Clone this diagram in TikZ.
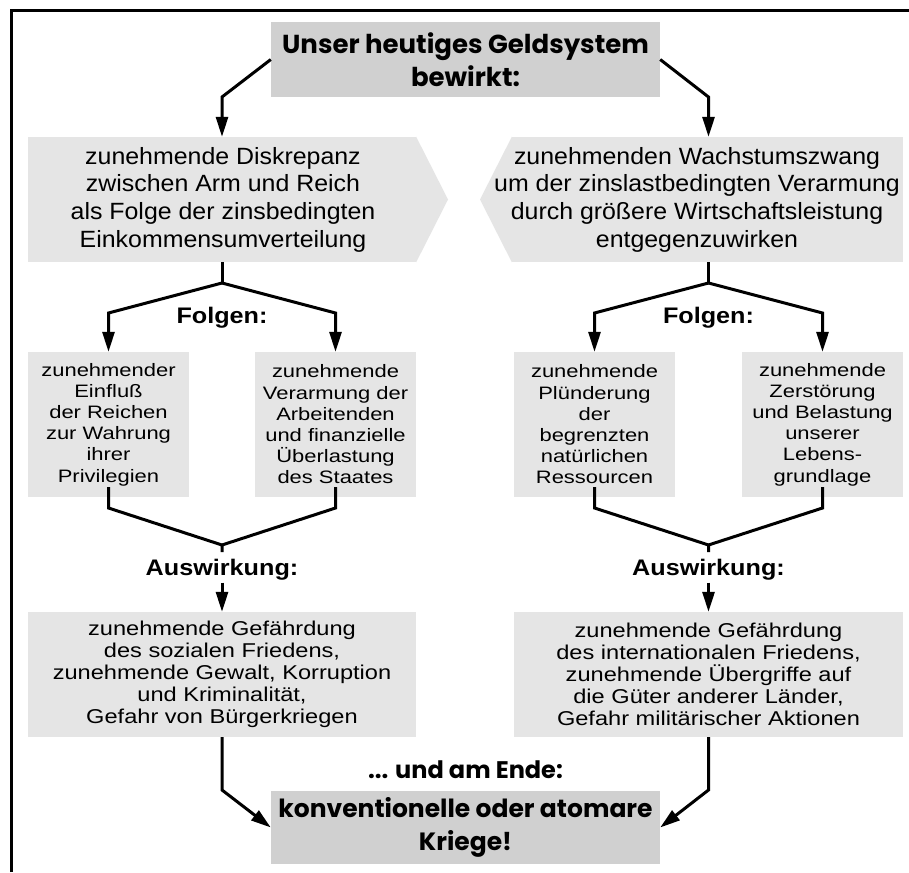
\documentclass[tikz,border=0pt]{standalone}
\usepackage{fontspec}
\setmainfont{Liberation Sans}
\newfontfamily\titlefont{Poppins}
\newfontfamily\pentfont[FakeStretch=1.06]{Liberation Sans}
\newfontfamily\smallfont[FakeStretch=1.22]{Liberation Sans}
\newfontfamily\botfont[FakeStretch=1.18]{Liberation Sans}
\newfontfamily\lblfont[FakeStretch=1.12]{Liberation Sans}
\usetikzlibrary{arrows.meta}
\definecolor{darkbox}{RGB}{208,208,208}
\definecolor{lightbox}{RGB}{229,229,229}
\tikzset{
  conn/.style={line width=3pt, draw=black, miter limit=4},
  arr/.style={conn, -{Triangle[length=20pt,width=12pt]}},
  titlebox/.style={fill=darkbox, inner sep=0pt, align=center,
    font=\titlefont\bfseries\fontsize{26}{33}\selectfont},
  finbox/.style={fill=darkbox, inner sep=0pt, align=center,
    font=\titlefont\bfseries\fontsize{25}{33}\selectfont},
  bodybox/.style={fill=lightbox, inner sep=0pt},
  penttext/.style={inner sep=0pt, align=center,
    font=\pentfont\fontsize{23.5}{27.7}\selectfont},
  smallbox/.style={fill=lightbox, inner sep=0pt, align=center,
    minimum width=161pt, minimum height=145pt,
    font=\smallfont\fontsize{18}{21.2}\selectfont},
  botbox/.style={fill=lightbox, inner sep=0pt, align=center,
    minimum height=125pt,
    font=\botfont\fontsize{20}{22}\selectfont},
  lbl/.style={inner sep=0pt, font=\lblfont\bfseries\fontsize{22.5}{26}\selectfont},
  endlbl/.style={inner sep=0pt, font=\titlefont\bfseries\fontsize{24}{30}\selectfont}
}
\begin{document}
\begin{tikzpicture}[x=1pt,y=-1pt]
\useasboundingbox (0,0) rectangle (909,872);
\fill[white] (0,0) rectangle (909,872);
% frame
\draw[line width=3pt] (11.5,872) -- (11.5,10.5) -- (909,10.5);

% title
\node[titlebox, minimum width=389pt, minimum height=75pt] (title) at (465.5,59.5)
  {Unser heutiges Geldsystem\\bewirkt:};

% pentagons
\node[bodybox, minimum width=388pt, minimum height=125pt] (lpb) at (222,199.5) {};
\fill[lightbox] (lpb.north east) -- (448,199.5) -- (lpb.south east) -- cycle;
\node[penttext] (lp) at (223,199.5)
  {zunehmende Diskrepanz\\zwischen Arm und Reich\\als Folge der zinsbedingten\\Einkommensumverteilung};

\node[bodybox, minimum width=391pt, minimum height=125pt] (rpb) at (707.5,199.5) {};
\fill[lightbox] (rpb.north west) -- (480,199.5) -- (rpb.south west) -- cycle;
\node[penttext] (rp) at (697,199.5)
  {zunehmenden Wachstumszwang\\um der zinslastbedingten Verarmung\\durch größere Wirtschaftsleistung\\entgegenzuwirken};

% small boxes
\node[smallbox] (s1) at (108.5,424.5)
  {zunehmender\\Einfluß\\der Reichen\\zur Wahrung\\ihrer\\Privilegien};
\node[smallbox] (s2) at (335.5,424.5)
  {zunehmende\\Verarmung der\\Arbeitenden\\und finanzielle\\Überlastung\\des Staates};
\node[smallbox] (s3) at (594.5,424.5)
  {zunehmende\\Plünderung\\der\\begrenzten\\natürlichen\\Ressourcen};
\node[smallbox] (s4) at (822.5,424.5)
  {zunehmende\\Zerstörung\\und Belastung\\unserer\\Lebens-\\grundlage};

% bottom boxes
\node[botbox, minimum width=388pt] (b1) at (222,674.5)
  {zunehmende Gefährdung\\des sozialen Friedens,\\zunehmende Gewalt, Korruption\\und Kriminalität,\\Gefahr von Bürgerkriegen};
\node[botbox, minimum width=389pt] (b2) at (708.5,674.5)
  {zunehmende Gefährdung\\des internationalen Friedens,\\zunehmende Übergriffe auf\\die Güter anderer Länder,\\Gefahr militärischer Aktionen};

% final box
\node[finbox, minimum width=389pt, minimum height=73pt] (fin) at (465.5,827.5)
  {konventionelle oder atomare\\Kriege!};

% labels
\node[lbl] (f1) at (222,318) {Folgen:};
\node[lbl] (f2) at (708.5,318) {Folgen:};
\node[lbl] (a1) at (222,570) {Auswirkung:};
\node[lbl] (a2) at (708.5,570) {Auswirkung:};
\node[endlbl] (ende) at (465.5,770) {... und am Ende:};

% connectors: title to pentagons
\draw[arr] (title.west) -- (222,97) -- (lpb.north);
\draw[arr] (title.east) -- (708.5,97) -- (rpb.north -| b2.north);

% forks
\draw[conn] (lpb.south) -- (222,283);
\draw[arr] (222,283) -- (108.5,313) -- (s1.north);
\draw[arr] (222,283) -- (335.5,313) -- (s2.north);
\draw[conn] (rpb.south -| b2.north) -- (708.5,283);
\draw[arr] (708.5,283) -- (594.5,313) -- (s3.north);
\draw[arr] (708.5,283) -- (822.5,313) -- (s4.north);

% merges
\draw[conn] ([yshift=10pt]s1.south) -- (108.5,508) -- (222,545) -- (222,552);
\draw[conn] ([yshift=10pt]s2.south) -- (335.5,508) -- (222,545);
\draw[conn] ([yshift=10pt]s3.south) -- (594.5,508) -- (708.5,545) -- (708.5,552);
\draw[conn] ([yshift=10pt]s4.south) -- (822.5,508) -- (708.5,545);

% Auswirkung arrows
\draw[arr] ([yshift=-2pt]a1.south) -- (b1.north);
\draw[arr] ([yshift=-2pt]a2.south) -- (b2.north);

% to final
\draw[arr] (b1.south) -- (222,790) -- (fin.west);
\draw[arr] (b2.south) -- (708.5,790) -- (fin.east);
\end{tikzpicture}
\end{document}
